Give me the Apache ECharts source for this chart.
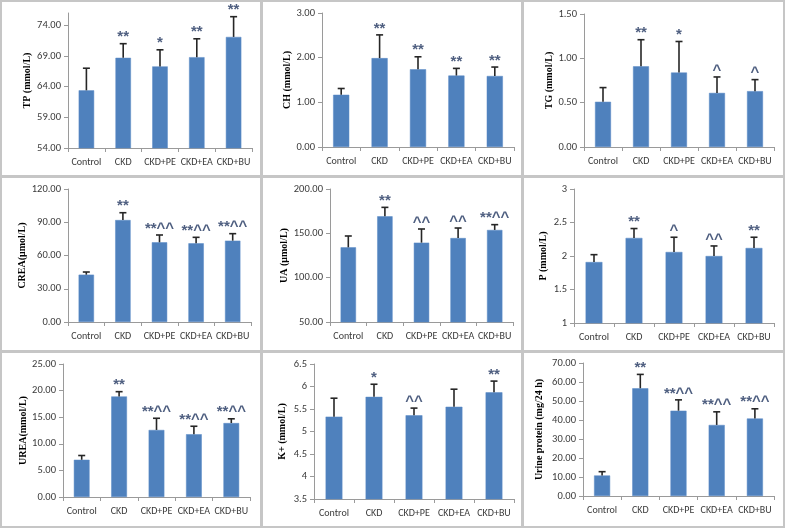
<!DOCTYPE html>
<html><head><meta charset="utf-8">
<script src="https://cdn.jsdelivr.net/npm/echarts@6/dist/echarts.min.js"></script>
<style>html,body{margin:0;padding:0;background:#fff}#c{width:787px;height:530px}</style>
</head><body><div id="c"></div>
<script>
// ---------- data ----------
const categories = ['Control', 'CKD', 'CKD+PE', 'CKD+EA', 'CKD+BU'];

const tpMean = [63.4, 68.7, 67.3, 68.8, 72.1];
const tpSD = [3.6, 2.3, 2.7, 3.0, 3.3];
const tpMarks = ['', '**', '*', '**', '**'];
const tpTicks = [54, 59, 64, 69, 74];

const chMean = [1.17, 1.99, 1.74, 1.60, 1.59];
const chSD = [0.14, 0.52, 0.28, 0.16, 0.20];
const chMarks = ['', '**', '**', '**', '**'];

const tgMean = [0.51, 0.91, 0.84, 0.61, 0.63];
const tgSD = [0.16, 0.30, 0.35, 0.18, 0.13];
const tgMarks = ['', '**', '*', '^', '^'];

const creaMean = [42.7, 92.0, 71.9, 71.0, 73.4];
const creaSD = [2.4, 6.6, 6.6, 5.4, 6.3];
const creaMarks = ['', '**', '**^^', '**^^', '**^^'];

const uaMean = [134.2, 169.2, 139.5, 144.7, 153.8];
const uaSD = [12.8, 10.1, 15.4, 11.3, 6.0];
const uaMarks = ['', '**', '^^', '^^', '**^^'];

const pMean = [1.91, 2.27, 2.06, 2.00, 2.12];
const pSD = [0.11, 0.14, 0.22, 0.15, 0.16];
const pMarks = ['', '**', '^', '^^', '**'];

const ureaMean = [7.0, 18.9, 12.6, 11.8, 13.9];
const ureaSD = [0.8, 0.9, 2.2, 1.5, 0.8];
const ureaMarks = ['', '**', '**^^', '**^^', '**^^'];

const kMean = [5.33, 5.77, 5.36, 5.55, 5.87];
const kSD = [0.41, 0.28, 0.16, 0.39, 0.25];
const kMarks = ['', '*', '^^', '', '**'];

const upMean = [10.8, 56.7, 44.9, 37.4, 40.8];
const upSD = [2.0, 7.3, 5.7, 6.9, 5.1];
const upMarks = ['', '**', '**^^', '**^^', '**^^'];

// ---------- panel definitions ----------
const panels = [
  {name: 'TP (mmol/L)', mean: tpMean, sd: tpSD, marks: tpMarks, min: 54, max: 76, interval: 5, dec: 2, ticks: tpTicks},
  {name: 'CH (mmol/L)', mean: chMean, sd: chSD, marks: chMarks, min: 0, max: 3, interval: 1, dec: 2},
  {name: 'TG (mmol/L)', mean: tgMean, sd: tgSD, marks: tgMarks, min: 0, max: 1.5, interval: 0.5, dec: 2},
  {name: 'CREA(\u03bcmol/L)', mean: creaMean, sd: creaSD, marks: creaMarks, min: 0, max: 120, interval: 30, dec: 2},
  {name: 'UA (\u03bcmol/L)', mean: uaMean, sd: uaSD, marks: uaMarks, min: 50, max: 200, interval: 50, dec: 2},
  {name: 'P (mmol/L)', mean: pMean, sd: pSD, marks: pMarks, min: 1, max: 3, interval: 0.5, dec: -1},
  {name: 'UREA(mmol/L)', mean: ureaMean, sd: ureaSD, marks: ureaMarks, min: 0, max: 25, interval: 5, dec: 2},
  {name: 'K+ (mmol/L)', mean: kMean, sd: kSD, marks: kMarks, min: 3.5, max: 6.5, interval: 0.5, dec: -1},
  {name: 'Urine protein (mg/24 h)', mean: upMean, sd: upSD, marks: upMarks, min: 0, max: 70, interval: 10, dec: 2}
];

// layout: grid [left, top, width, height], name gap
const layout = [
  [68, 13, 184, 135, 36], [322, 13, 192, 134, 28], [584, 14, 190, 133, 30],
  [68, 189, 183, 133, 38], [330, 189, 183, 133, 36], [574, 189, 200, 134, 26],
  [63, 364, 187, 133, 35], [314, 364, 200, 135, 27], [583, 363, 191, 133, 39]
];
const frames = [
  [1, 1, 260, 175], [262, 1, 260, 175], [523, 1, 261, 175],
  [1, 177, 260, 174], [262, 177, 260, 174], [523, 177, 261, 174],
  [1, 352, 260, 175], [262, 352, 260, 175], [523, 352, 261, 175]
];

const SANS = "Carlito, Calibri, 'Liberation Sans', sans-serif";
const SERIF = "'Liberation Serif', 'Times New Roman', serif";
const AXIS_COLOR = '#9a9a9a';
const TEXT_COLOR = '#3a3a3a';
const BAR_COLOR = '#4f81bd';
const MARK_COLOR = '#4f5f80';

const grids = [], xAxes = [], yAxes = [], series = [];

panels.forEach((p, i) => {
  const L = layout[i];
  grids.push({left: L[0], top: L[1], width: L[2], height: L[3], containLabel: false, outerBoundsMode: 'none'});
  xAxes.push({
    type: 'category', gridIndex: i, data: categories,
    axisLine: {lineStyle: {color: AXIS_COLOR, width: 1}},
    axisTick: {show: true, length: 4, lineStyle: {color: AXIS_COLOR}},
    axisLabel: {color: TEXT_COLOR, fontSize: 10, fontFamily: SANS, margin: 9, interval: 0}
  });
  const yLabel = {
    color: TEXT_COLOR, fontSize: 10.5, fontFamily: SANS, margin: 7,
    formatter: v => p.dec >= 0 ? Number(v).toFixed(p.dec) : String(v)
  };
  const yTick = {show: true, length: 4, lineStyle: {color: AXIS_COLOR}};
  if (p.ticks) { yLabel.customValues = p.ticks; yTick.customValues = p.ticks; }
  yAxes.push({
    type: 'value', gridIndex: i, min: p.min, max: p.max, interval: p.interval,
    name: p.name, nameLocation: 'middle', nameGap: L[4],
    nameTextStyle: {fontFamily: SERIF, fontWeight: 'bold', fontSize: 10, color: '#000'},
    axisLine: {show: true, lineStyle: {color: AXIS_COLOR, width: 1}},
    axisTick: yTick, splitLine: {show: false},
    axisLabel: yLabel
  });
  series.push({
    type: 'bar', xAxisIndex: i, yAxisIndex: i, data: p.mean, barWidth: '42%',
    itemStyle: {color: BAR_COLOR, borderColor: '#5a8ac6', borderWidth: 0.5},
    silent: true, animation: false
  });
  const marks = p.marks;
  series.push({
    type: 'custom', xAxisIndex: i, yAxisIndex: i, animation: false, silent: true, z: 5,
    data: p.mean.map((m, j) => [j, m, +(m + p.sd[j]).toFixed(3)]),
    renderItem: (params, api) => {
      const x = api.value(0);
      const base = api.coord([x, api.value(1)]);
      const top = api.coord([x, api.value(2)]);
      const st = {stroke: '#262626', lineWidth: 1.6};
      const children = [
        {type: 'line', shape: {x1: base[0], y1: base[1], x2: top[0], y2: top[1]}, style: st},
        {type: 'line', shape: {x1: top[0] - 3.5, y1: top[1], x2: top[0] + 3.5, y2: top[1]}, style: st}
      ];
      const t = marks[params.dataIndex];
      if (t) {
        children.push({type: 'text', x: top[0], y: top[1] + 1,
          style: {text: t, fill: MARK_COLOR, fontFamily: "'Liberation Sans', Arial, sans-serif",
            fontSize: 15, fontWeight: 'bold', align: 'center', verticalAlign: 'bottom'}});
      }
      return {type: 'group', children};
    }
  });
});

const graphic = frames.map(f => ({
  type: 'rect', shape: {x: f[0], y: f[1], width: f[2], height: f[3]},
  style: {fill: 'none', stroke: '#c6c6c6', lineWidth: 2}, silent: true, z: 0
}));

const chart = echarts.init(document.getElementById('c'), null, {renderer: 'canvas'});
chart.setOption({
  backgroundColor: '#fff', animation: false,
  grid: grids, xAxis: xAxes, yAxis: yAxes, series: series, graphic: graphic
});
</script></body></html>
